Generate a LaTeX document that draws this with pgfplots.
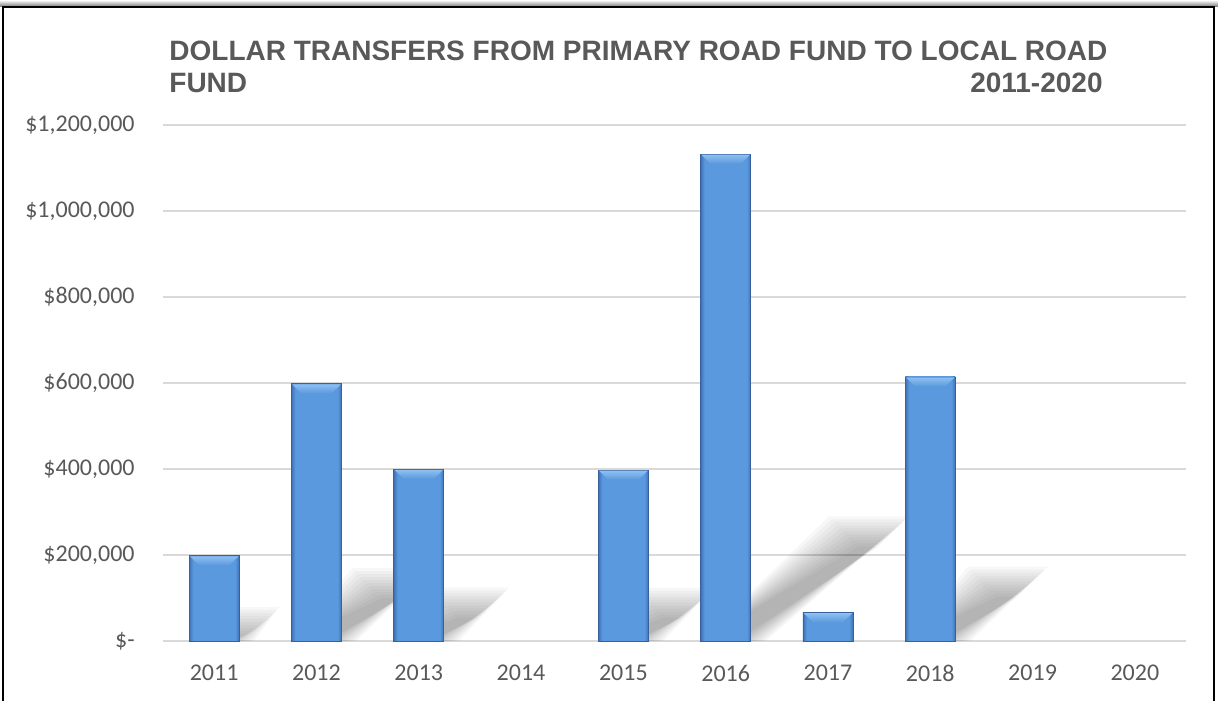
\documentclass[border=0pt]{standalone}
\usepackage{pgfplots}
\pgfplotsset{compat=1.18}
\usepackage{fontspec}
\setmainfont{Carlito}
\newfontfamily\titlefont{Liberation Sans}
\definecolor{txt}{HTML}{595959}
\definecolor{gridc}{HTML}{D9D9D9}
\definecolor{barmid}{HTML}{5B99DE}
\definecolor{bardark}{HTML}{3F72B8}
\definecolor{bevtop}{HTML}{8EC0F0}
\pgfdeclarehorizontalshading{barshade}{100bp}{color(0bp)=(bardark); color(25bp)=(bardark); color(29bp)=(barmid); color(71bp)=(barmid); color(75bp)=(bardark); color(100bp)=(bardark)}
% decorative soft shadow of a bar: #1 = x position, #2 = value in thousands
\newcommand\barshadow[2]{%
  \foreach \d in {-15,-12,-9,-6,-3,0,3,6,9,12,15}{%
    \pgfmathsetmacro\xl{#1-0.2444}%
    \pgfmathsetmacro\xr{#1+0.2444+\d/102.3}%
    \pgfmathsetmacro\sx{0.00124*#2}%
    \pgfmathsetmacro\sy{0.225*#2+\d*2.3256}%
    \pgfmathsetmacro\xtl{\xl+\sx-\d/102.3}%
    \pgfmathsetmacro\xtr{\xr+\sx}%
    \edef\temp{\noexpand\addplot[draw=none, fill=black, fill opacity=0.03, forget plot] coordinates {(\xl,0) (\xr,0) (\xtr,\sy e3) (\xtl,\sy e3)} -- cycle;}%
    \temp
  }%
}
% decorative top bevel of a bar: #1 = x position, #2 = value in thousands
\newcommand\barbevel[2]{%
  \pgfmathsetmacro\ba{#1-0.238}%
  \pgfmathsetmacro\bb{#1+0.238}%
  \pgfmathsetmacro\bc{#1-0.238+0.09}%
  \pgfmathsetmacro\bd{#1+0.238-0.09}%
  \pgfmathsetmacro\bt{#2-1}%
  \pgfmathsetmacro\bl{#2-22}%
  \edef\temp{\noexpand\addplot[draw=none, top color=bevtop, bottom color=barmid, forget plot] coordinates {(\ba,\bt e3) (\bb,\bt e3) (\bd,\bl e3) (\bc,\bl e3)} -- cycle;}%
  \temp
}
\newcommand\onebar[2]{%
  \addplot[ybar, bar width=25pt, bar shift=0pt, shading=barshade, draw=bardark!85!black, line width=0.4pt, forget plot] coordinates {(#1,#2)};%
}
\begin{document}
\begin{tikzpicture}
\begin{axis}[
  at={(0,0)}, anchor=south west,
  scale only axis, width=511.5pt, height=258pt,
  xmin=-0.5, xmax=9.5, ymin=0, ymax=1200000,
  axis line style={draw=none},
  ymajorgrids, grid style={gridc, line width=0.9pt},
  ytick={0,200000,400000,600000,800000,1000000,1200000},
  yticklabels={{\$-\hspace{5.5pt}},{\$200,000},{\$400,000},{\$600,000},{\$800,000},{\$1,000,000},{\$1,200,000}},
  xtick={0,1,2,3,4,5,6,7,8,9},
  xticklabels={2011,2012,2013,2014,2015,2016,2017,2018,2019,2020},
  major tick length=0pt,
  tick label style={font=\fontsize{12}{14}\selectfont, text=txt},
  yticklabel style={anchor=east, inner sep=0pt, xshift=-14pt},
  xticklabel style={anchor=north, inner sep=0pt, yshift=-12pt},
  scaled y ticks=false,
  clip=false,
]
\barshadow{0}{198}
\barshadow{1}{598}
\barshadow{2}{399}
\barshadow{4}{397}
\barshadow{5}{1132}
\barshadow{7}{614}
\onebar{0}{198000}
\onebar{1}{598000}
\onebar{2}{399000}
\onebar{4}{397000}
\onebar{5}{1132000}
\onebar{6}{66000}
\onebar{7}{614000}
\barbevel{0}{198}
\barbevel{1}{598}
\barbevel{2}{399}
\barbevel{4}{397}
\barbevel{5}{1132}
\barbevel{6}{66}
\barbevel{7}{614}
\end{axis}
\node[anchor=base west, font=\titlefont\bfseries\fontsize{14}{16}\selectfont, text=txt, inner sep=0pt] at (3pt,290pt) {DOLLAR TRANSFERS FROM PRIMARY ROAD FUND TO LOCAL ROAD};
\node[anchor=base west, font=\titlefont\bfseries\fontsize{14}{16}\selectfont, text=txt, inner sep=0pt] at (3pt,274pt) {FUND};
\node[anchor=base east, font=\titlefont\bfseries\fontsize{14}{16}\selectfont, text=txt, inner sep=0pt] at (470pt,274pt) {2011-2020};
\fill[top color=white, bottom color=black!55] (-81.5pt,317pt) rectangle (527.5pt,320.5pt);
\draw[line width=1.25pt] (-80pt,-35pt) -- (-80pt,317pt) -- (525.5pt,317pt) -- (525.5pt,-35pt);
\pgfresetboundingbox
\useasboundingbox (-81.5pt,-29.5pt) rectangle (527.5pt,320.5pt);
\end{tikzpicture}
\end{document}
